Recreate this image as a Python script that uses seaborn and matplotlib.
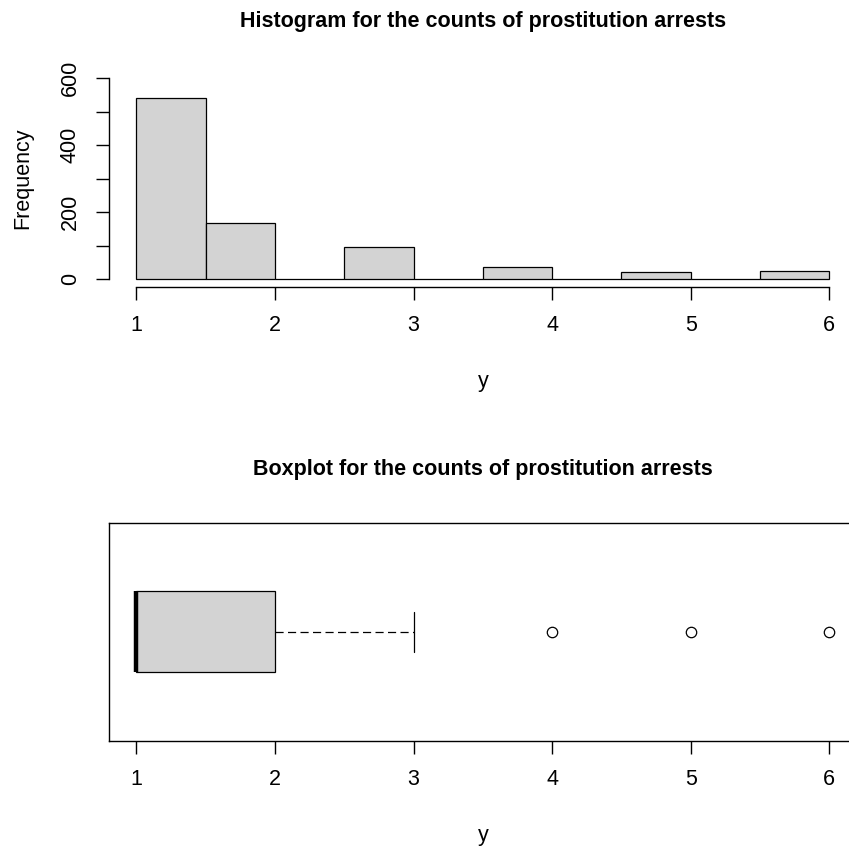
import numpy as np
import pandas as pd
import matplotlib
matplotlib.use("Agg")
import matplotlib.pyplot as plt
import seaborn as sns

# counts of prostitution arrests: value -> number of observations
arrest_values = [1, 2, 3, 4, 5, 6]
arrest_counts = [542, 169, 96, 37, 21, 26]
hist_breaks = [1, 1.5, 2, 2.5, 3, 3.5, 4, 4.5, 5, 5.5, 6]
x_ticks = [1, 2, 3, 4, 5, 6]
y_ticks = [0, 100, 200, 300, 400, 500, 600]
y_ticklabels = ["0", "", "200", "", "400", "", "600"]

df = pd.DataFrame({"y": np.repeat(arrest_values, arrest_counts)})

sns.set_theme(style="white")
plt.rcParams["font.family"] = ["Liberation Sans", "DejaVu Sans"]
plt.rcParams["axes.linewidth"] = 1.0

fig = plt.figure(figsize=(8.49, 8.48), dpi=100)
W, H = 849, 848

def px_axes(left, top, right, bottom):
    return fig.add_axes([left / W, 1 - bottom / H, (right - left) / W, (bottom - top) / H])

# ---- histogram ----
ax1 = px_axes(108.7, 78.3, 857, 287)
# R uses right-closed bins, shift inner breaks a hair to the right
bins = np.array(hist_breaks, dtype=float) + 1e-9
bins[0] = hist_breaks[0] - 1e-9
sns.histplot(data=df, x="y", bins=bins, color="#D3D3D3", edgecolor="black",
             linewidth=0.9, alpha=1, ax=ax1)
ax1.set_xlim(0.8, 6.2)
ax1.set_ylim(-23, 600)
for s in ["top", "right"]:
    ax1.spines[s].set_visible(False)
ax1.spines["left"].set_bounds(0, 600)
ax1.spines["bottom"].set_bounds(1, 6)
for s in ["left", "bottom"]:
    ax1.spines[s].set_color("black")
ax1.set_xticks(x_ticks)
ax1.set_xticklabels([str(v) for v in x_ticks])
ax1.set_yticks(y_ticks)
ax1.set_yticklabels(y_ticklabels)
ax1.tick_params(axis="both", which="major", direction="out", length=9.2, width=1.0,
                color="black", labelsize=15.5, labelcolor="black",
                left=True, bottom=True)
ax1.tick_params(axis="x", pad=11)
ax1.tick_params(axis="y", pad=11)
for lab in ax1.get_yticklabels():
    lab.set_rotation(90)
    lab.set_va("center")
ax1.set_xlabel("y", fontsize=15.5, color="black")
ax1.xaxis.set_label_coords(0.5, -(381 - 287) / 208.7)
ax1.xaxis.label.set_va("center")
ax1.set_ylabel("Frequency", fontsize=15.5, color="black")
ax1.yaxis.set_label_coords(-(108.7 - 23) / 748.3, 1 - (178 - 78.3) / 208.7)
ax1.yaxis.label.set_va("center")
fig.text(483 / W, 1 - 21 / H, "Histogram for the counts of prostitution arrests",
         ha="center", va="center", fontsize=15.5, fontweight="bold", color="black")

# ---- boxplot ----
ax2 = px_axes(108.7, 522.7, 857, 740.7)
sns.boxplot(data=df, x="y", orient="h", width=0.37, color="#D3D3D3",
            linecolor="black", linewidth=0.9, fliersize=7.5,
            whiskerprops=dict(linestyle=(0, (6.5, 3.5))),
            medianprops=dict(linewidth=3.2, color="black"),
            flierprops=dict(marker="o", markerfacecolor="none",
                            markeredgecolor="black", markeredgewidth=0.9),
            ax=ax2)
# repeated outliers sit on top of each other; keep one marker per value
for ln in ax2.lines:
    if ln.get_marker() == "o" and len(ln.get_xdata()) > 0:
        fx = np.asarray(ln.get_xdata())
        fy = np.asarray(ln.get_ydata())
        _, idx = np.unique(fx, return_index=True)
        ln.set_data(fx[idx], fy[idx])
ax2.set_xlim(0.8, 6.2)
ax2.set_ylim(0.5, -0.5)
for s in ax2.spines.values():
    s.set_visible(True)
    s.set_color("black")
ax2.set_yticks([])
ax2.set_ylabel("")
ax2.set_xticks(x_ticks)
ax2.set_xticklabels([str(v) for v in x_ticks])
ax2.tick_params(axis="x", direction="out", length=9.2, width=1.0, color="black",
                labelsize=15.5, labelcolor="black", pad=11, bottom=True)
ax2.set_xlabel("y", fontsize=15.5, color="black")
ax2.xaxis.set_label_coords(0.5, -(835 - 740.7) / 218)
ax2.xaxis.label.set_va("center")
fig.text(483 / W, 1 - 470 / H, "Boxplot for the counts of prostitution arrests",
         ha="center", va="center", fontsize=15.5, fontweight="bold", color="black")

fig.savefig("out.png", dpi=100)
